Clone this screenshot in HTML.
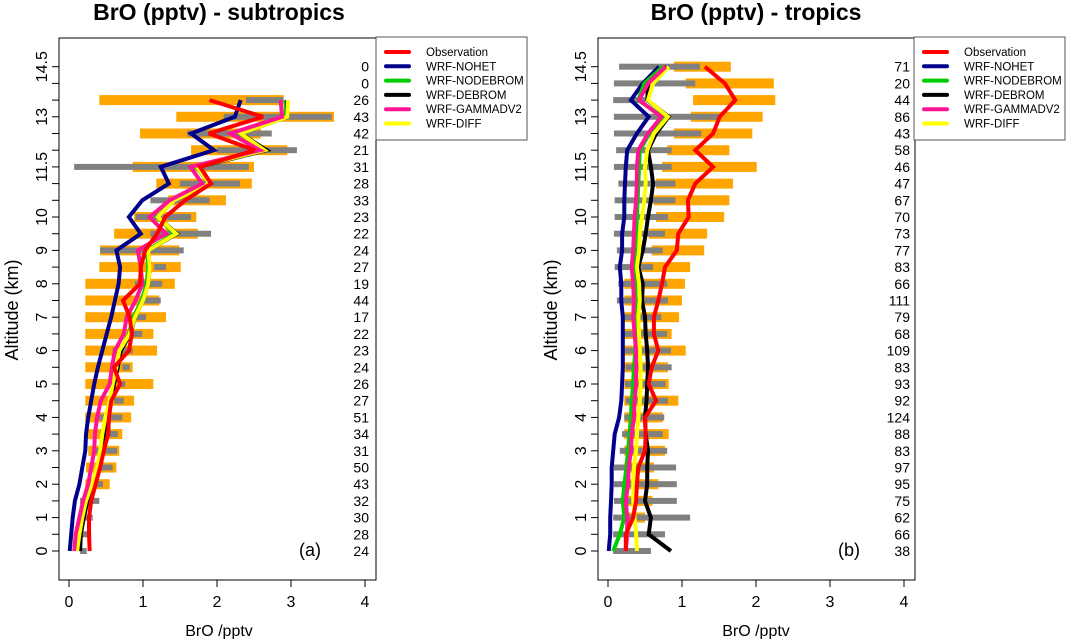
<!DOCTYPE html>
<html><head><meta charset="utf-8"><style>
html,body{margin:0;padding:0;background:#fff;width:1067px;height:639px;overflow:hidden}
svg{display:block;font-family:"Liberation Sans","DejaVu Sans",sans-serif}
</style></head><body>
<svg id="chart" width="1067" height="639" viewBox="0 0 1067 639"></svg>
<script>
// levels 0..14.5 step 0.5 (index 0 = 0 km)
const levels = [0,0.5,1,1.5,2,2.5,3,3.5,4,4.5,5,5.5,6,6.5,7,7.5,8,8.5,9,9.5,10,10.5,11,11.5,12,12.5,13,13.5,14,14.5];
const xTicks = [0,1,2,3,4];
const yTickLabels = ["0","1","2","3","4","5","6","7","8","9","10","11.5","13","14.5"];
const seriesNames = ["Observation","WRF-NOHET","WRF-NODEBROM","WRF-DEBROM","WRF-GAMMADV2","WRF-DIFF"];

// ---- subtropics ----
const subCounts = [24,28,30,32,43,50,31,34,51,27,26,24,23,22,17,44,19,27,24,22,23,33,28,31,21,42,43,26,0,0];
const subObsLo = [null,null,null,null,0.22,0.23,0.26,0.23,0.22,0.22,0.22,0.22,0.22,0.22,0.22,0.22,0.22,0.41,0.42,0.61,0.88,1.34,1.18,0.86,1.65,0.96,1.45,0.41,null,null];
const subObsHi = [null,null,null,null,0.55,0.64,0.68,0.72,0.84,0.88,1.14,0.86,1.19,1.14,1.31,1.22,1.43,1.51,1.49,1.74,1.72,2.12,2.47,2.5,2.95,2.59,3.58,2.9,null,null];
const subModLo = [0.15,0.16,0.22,0.15,0.32,0.36,0.31,0.42,0.38,0.61,0.66,0.72,0.59,0.85,0.76,1.0,0.89,1.15,0.42,1.1,0.9,1.1,1.5,0.07,2.0,1.6,2.09,2.39,null,null];
const subModHi = [0.24,0.3,0.32,0.41,0.46,0.59,0.65,0.66,0.72,0.74,0.76,0.82,0.86,0.99,1.04,1.24,1.26,1.31,1.55,1.92,1.65,1.9,2.31,2.43,3.08,2.74,3.55,2.9,null,null];
const subObs = [0.28,0.27,0.27,0.3,0.36,0.42,0.47,0.53,0.54,0.57,0.69,0.61,0.81,0.85,0.82,0.73,0.96,0.97,1.03,1.19,1.3,1.57,1.92,1.77,2.51,1.89,2.62,1.9,null,null];
const subNohet = [0.01,0.03,0.05,0.08,0.14,0.18,0.22,0.23,0.26,0.3,0.34,0.39,0.45,0.51,0.57,0.62,0.67,0.69,0.64,0.97,0.81,0.99,1.35,1.24,1.96,1.65,2.24,2.32,null,null];
const subNodebrom = [0.13,0.15,0.19,0.24,0.32,0.39,0.43,0.46,0.5,0.56,0.6,0.65,0.69,0.81,0.87,0.98,1.05,1.07,1.05,1.43,1.19,1.41,1.9,1.72,2.63,2.31,2.93,2.93,null,null];
const subDebrom = [0.15,0.16,0.2,0.25,0.33,0.4,0.44,0.47,0.51,0.57,0.61,0.66,0.7,0.83,0.89,1.0,1.07,1.09,1.07,1.46,1.2,1.42,1.91,1.75,2.67,2.32,2.95,2.95,null,null];
const subGamma = [0.07,0.09,0.14,0.19,0.26,0.3,0.34,0.35,0.38,0.43,0.55,0.58,0.62,0.74,0.78,0.9,0.99,0.97,0.93,1.31,1.09,1.36,1.8,1.64,2.58,2.18,2.88,2.86,null,null];
const subDiff = [0.11,0.14,0.18,0.23,0.31,0.38,0.42,0.45,0.49,0.55,0.59,0.64,0.68,0.82,0.89,1.0,1.07,1.09,1.07,1.45,1.2,1.42,1.9,1.73,2.64,2.32,2.95,2.96,null,null];

// ---- tropics ----
const troCounts = [38,66,62,75,95,97,83,88,124,92,93,83,109,68,79,111,66,83,77,73,70,67,47,46,58,43,86,44,20,71];
const troObsLo = [null,null,0.22,0.22,0.22,0.22,0.22,0.22,0.22,0.22,0.22,0.22,0.22,0.22,0.22,0.22,0.22,0.45,0.59,0.55,0.65,0.62,0.65,0.73,0.8,0.89,1.12,1.15,1.05,0.89];
const troObsHi = [null,null,0.5,0.6,0.68,0.62,0.77,0.82,0.74,0.95,0.82,0.81,1.05,0.86,0.96,1.0,1.04,1.11,1.3,1.34,1.57,1.64,1.69,2.01,1.64,1.95,2.09,2.26,2.24,1.66];
const troModLo = [0.07,0.07,0.07,0.08,0.08,0.08,0.16,0.19,0.22,0.24,0.23,0.24,0.23,0.22,0.22,0.12,0.14,0.09,0.12,0.08,0.09,0.09,0.14,0.08,0.11,0.08,0.08,0.07,0.08,0.15];
const troModHi = [0.58,0.77,1.11,0.93,0.93,0.92,0.8,0.74,0.76,0.81,0.78,0.86,0.85,0.8,0.72,0.81,0.8,0.61,0.74,0.77,0.81,0.91,0.91,0.86,0.86,1.26,1.51,0.5,1.18,1.24];
const troObs = [0.24,0.24,0.34,0.38,0.39,0.41,0.5,0.51,0.5,0.65,0.55,0.59,0.68,0.62,0.62,0.68,0.73,0.77,0.93,0.95,1.09,1.08,1.18,1.42,1.18,1.42,1.51,1.72,1.58,1.31];
const troNohet = [0.01,0.03,0.03,0.04,0.05,0.05,0.07,0.09,0.15,0.18,0.19,0.2,0.2,0.2,0.2,0.18,0.18,0.16,0.19,0.19,0.22,0.22,0.23,0.24,0.26,0.39,0.55,0.31,0.47,0.69];
const troNodebrom = [0.07,0.16,0.22,0.2,0.22,0.25,0.27,0.29,0.31,0.32,0.34,0.35,0.37,0.37,0.37,0.37,0.37,0.36,0.37,0.38,0.39,0.4,0.41,0.42,0.43,0.56,0.74,0.41,0.49,0.74];
const troDebrom = [0.85,0.55,0.58,0.5,0.53,0.53,0.54,0.51,0.5,0.52,0.53,0.54,0.53,0.51,0.5,0.46,0.47,0.41,0.47,0.51,0.54,0.58,0.61,0.58,0.54,0.65,0.82,0.53,0.54,0.8];
const troGamma = [0.24,0.26,0.26,0.24,0.27,0.28,0.31,0.32,0.35,0.36,0.38,0.38,0.38,0.36,0.34,0.35,0.34,0.32,0.34,0.35,0.36,0.38,0.39,0.39,0.41,0.54,0.72,0.42,0.54,0.78];
const troDiff = [0.39,0.38,0.36,0.34,0.34,0.35,0.38,0.39,0.41,0.43,0.44,0.44,0.43,0.42,0.41,0.43,0.42,0.39,0.42,0.43,0.46,0.49,0.51,0.5,0.53,0.62,0.81,0.54,0.61,0.82];

const colors = {"Observation":"#ff0000","WRF-NOHET":"#00008b","WRF-NODEBROM":"#00cd00","WRF-DEBROM":"#000000","WRF-GAMMADV2":"#ff1493","WRF-DIFF":"#ffff00"};
const NS = "http://www.w3.org/2000/svg";
const svg = document.getElementById('chart');
function mk(tag, attrs, parent, text){
  const e = document.createElementNS(NS, tag);
  for (const k in attrs) e.setAttribute(k, attrs[k]);
  if (text !== undefined) e.textContent = text;
  (parent || svg).appendChild(e);
  return e;
}
const yOf = v => 551 - v * 33.4;

function panel(p){
  const X = v => p.x0 + v * 74;
  const g = mk('g', {});
  
  
  const t = mk('text', {x: p.cx, y: 20, 'text-anchor':'middle', 'font-size':23, 'font-weight':'bold'}, g, p.title);
  
  
  levels.forEach((lv, i) => {
    if (p.oLo[i] !== null) {
      const r = mk('rect', {x: X(p.oLo[i]), y: yOf(lv) - 5, width: X(p.oHi[i]) - X(p.oLo[i]), height: 10, fill: '#ffa500'}, g);
      
      
    }
  });
  levels.forEach((lv, i) => {
    if (p.mLo[i] !== null) {
      const r = mk('rect', {x: X(p.mLo[i]), y: yOf(lv) - 3, width: X(p.mHi[i]) - X(p.mLo[i]), height: 6, fill: '#808080'}, g);
      
      
    }
  });
  const order = [["WRF-NOHET",p.nohet],["WRF-NODEBROM",p.nodebrom],["WRF-DEBROM",p.debrom],["WRF-DIFF",p.diff],["WRF-GAMMADV2",p.gamma],["Observation",p.obs]];
  order.forEach(([name, arr]) => {
    const pts = [];
    levels.forEach((lv, i) => { if (arr[i] !== null) pts.push(X(arr[i]).toFixed(1) + ',' + yOf(lv).toFixed(1)); });
    const l = mk('polyline', {points: pts.join(' '), fill:'none', stroke: colors[name], 'stroke-width':4, 'stroke-linejoin':'miter', 'stroke-miterlimit':3}, g);
    
    
  });
  levels.forEach((lv, i) => {
    const c = mk('text', {x: p.cntX, y: yOf(lv) + 5, 'text-anchor':'end', 'font-size':14}, g, String(p.counts[i]));
    
    
  });
  const b = mk('rect', {x: p.x0 - 10, y: 38, width: 317, height: 542, fill:'none', stroke:'#000', 'stroke-width':1}, g);
  
  
  xTicks.forEach(v => {
    mk('line', {x1: X(v), x2: X(v), y1: 580, y2: 587, stroke:'#000'}, g);
    const tl = mk('text', {x: X(v), y: 607, 'text-anchor':'middle', 'font-size':16}, g, String(v));
    
    
  });
  mk('line', {x1: X(0), x2: X(4), y1: 580, y2: 580, stroke:'#000'}, g);
  levels.forEach(lv => { mk('line', {x1: p.x0 - 10, x2: p.x0 - 17, y1: yOf(lv), y2: yOf(lv), stroke:'#000'}, g); });
  yTickLabels.forEach(s => {
    const v = parseFloat(s);
    const tl = mk('text', {x: 0, y: 0, 'text-anchor':'middle', 'font-size':16, transform: 'translate(' + (p.x0 - 22) + ',' + yOf(v) + ') rotate(-90)'}, g, s);
    
    
  });
  const xl = mk('text', {x: p.cx, y: 636, 'text-anchor':'middle', 'font-size':16}, g, 'BrO /pptv');
  
  
  const yl = mk('text', {x: 0, y: 0, 'text-anchor':'middle', 'font-size':18, transform: 'translate(' + (p.x0 - 51) + ',310) rotate(-90)'}, g, 'Altitude (km)');
  
  
  const pl = mk('text', {x: p.x0 + 241, y: 556, 'text-anchor':'middle', 'font-size':18}, g, p.tag);
  
  
  const lg = mk('g', {}, g);
  
  
  mk('rect', {x: p.legX, y: 37, width: 151, height: 103, fill:'#fff', stroke:'#555', 'stroke-width':1}, lg);
  seriesNames.forEach((n, i) => {
    const y = 52 + i * 14.3;
    const ls = mk('line', {x1: p.legX + 10, x2: p.legX + 33, y1: y, y2: y, stroke: colors[n], 'stroke-width':4, 'stroke-linecap':'round'}, lg);
    
    
    const lt = mk('text', {x: p.legX + 50, y: y + 4, 'font-size':11.5}, lg, n);
    
    
  });
}

panel({id:'subtropics', title:'BrO (pptv) -  subtropics', tag:'(a)', x0:69, cx:219, cntX:369, legX:376,
  counts:subCounts, oLo:subObsLo, oHi:subObsHi, mLo:subModLo, mHi:subModHi,
  obs:subObs, nohet:subNohet, nodebrom:subNodebrom, debrom:subDebrom, gamma:subGamma, diff:subDiff});
panel({id:'tropics', title:'BrO (pptv) - tropics', tag:'(b)', x0:608, cx:756, cntX:910, legX:914,
  counts:troCounts, oLo:troObsLo, oHi:troObsHi, mLo:troModLo, mHi:troModHi,
  obs:troObs, nohet:troNohet, nodebrom:troNodebrom, debrom:troDebrom, gamma:troGamma, diff:troDiff});
</script>
</body></html>
